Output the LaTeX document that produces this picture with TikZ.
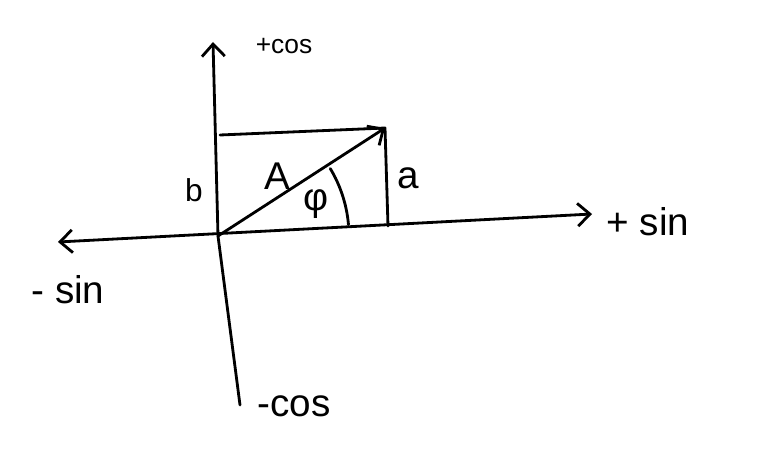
\documentclass[tikz,border=0pt]{standalone}
\usepackage{fontspec}
\setmainfont{Liberation Sans}
\usetikzlibrary{arrows.meta}

\begin{document}
\begin{tikzpicture}[
  x=0.02cm, y=-0.02cm,
  stroke/.style={line width=1.6pt, line cap=round, line join=round},
  arrow/.style={stroke, -{Straight Barb[length=7pt, width=13pt, line width=1.6pt]}},
  both/.style={stroke, {Straight Barb[length=7pt, width=13pt, line width=1.6pt]}-{Straight Barb[length=7pt, width=13pt, line width=1.6pt]}},
  lbl/.style={inner sep=0pt, font=\fontsize{18}{20}\selectfont},
  big/.style={inner sep=0pt, font=\fontsize{22}{24}\selectfont},
  small/.style={inner sep=0pt, font=\fontsize{15}{17}\selectfont}
]
\useasboundingbox (0,0) rectangle (758,456);

% axes
\coordinate (origin) at (218,236);
\coordinate (ytop) at (213,42);
\coordinate (ybot) at (240,405);
\coordinate (xleft) at (58,242);
\coordinate (xright) at (592,214);

% phasor rectangle
\coordinate (tip) at (385,128);
\coordinate (corner) at (220,135);
\coordinate (foot) at (388,226);

\draw[arrow] (ybot) -- (origin) -- (ytop);
\draw[both] (xleft) -- (xright);
\draw[stroke] (corner) -- (tip) -- (foot);
\draw[arrow] (origin) -- (tip);
\draw[stroke] (origin) ++(5:2.62cm) arc[start angle=5, end angle=31, radius=2.62cm];

% labels
\node[small] (pcos) at (284,46) {+cos};
\node[big] (mcos) at (294,406) {-cos};
\node[big] (psin) at (648,222) {+ sin};
\node[big] (msin) at (68,290) {- sin};
\node[lbl] (lb) at (194,190) {b};
\node[big] (la) at (408,178) {a};
\node[big] (lA) at (277,176) {A};
\node[big] (lphi) at (316,204) {φ};
\end{tikzpicture}
\end{document}
